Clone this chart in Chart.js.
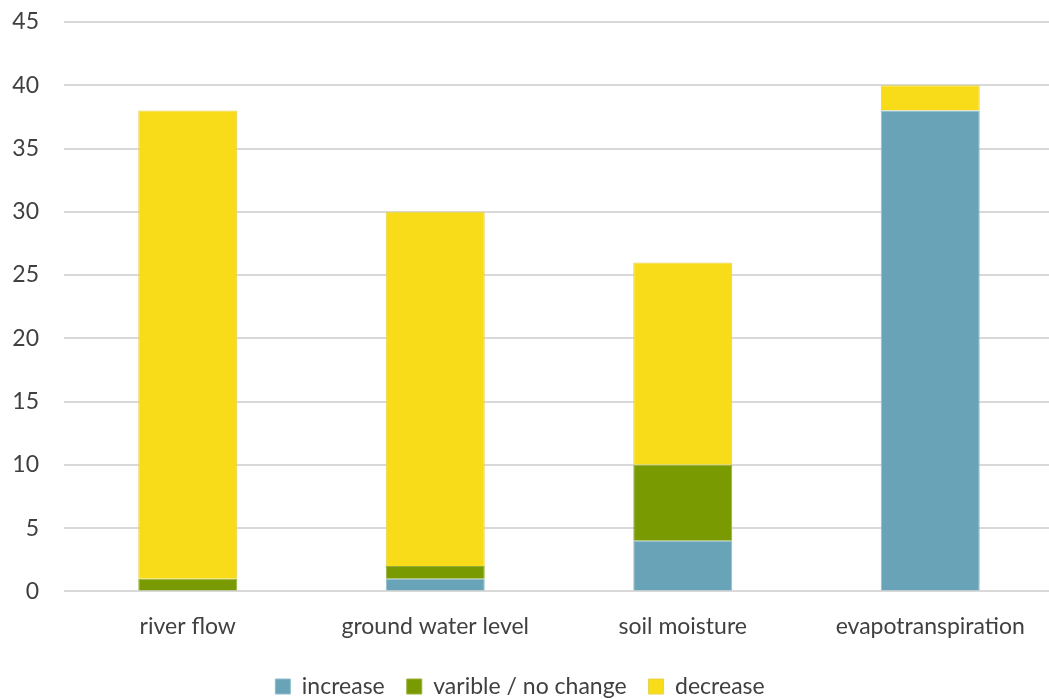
<!DOCTYPE html>
<html>
<head>
<meta charset="utf-8">
<script src="https://cdn.jsdelivr.net/npm/chart.js@4"></script>
<style>
  html, body { margin: 0; padding: 0; background: #fff; overflow: hidden; }
  #wrap { width: 1058px; height: 699px; }
</style>
</head>
<body>
<div id="wrap"><canvas id="chart"></canvas></div>
<script>
  // Data
  const categories = ['river flow', 'ground water level', 'soil moisture', 'evapotranspiration'];
  const increase = [0, 1, 4, 38];
  const variable = [1, 1, 6, 0];
  const decrease = [37, 28, 16, 2];
  const yTicks = [0, 5, 10, 15, 20, 25, 30, 35, 40, 45];

  const ctx = document.getElementById('chart').getContext('2d');
  const chart = new Chart(ctx, {
    type: 'bar',
    data: {
      labels: categories,
      datasets: [
        {
          label: 'increase',
          data: increase,
          backgroundColor: '#69a3b8',
          borderColor: '#8fbccb',
          borderWidth: 1,
          categoryPercentage: 1,
          barPercentage: 0.4
        },
        {
          label: 'varible / no change',
          data: variable,
          backgroundColor: '#7a9a01',
          borderColor: '#95b03a',
          borderWidth: 1,
          categoryPercentage: 1,
          barPercentage: 0.4
        },
        {
          label: 'decrease',
          data: decrease,
          backgroundColor: '#f8dc1a',
          borderColor: '#e6d24a',
          borderWidth: 1,
          categoryPercentage: 1,
          barPercentage: 0.4
        }
      ]
    },
    options: {
      responsive: true,
      maintainAspectRatio: false,
      animation: false,
      layout: { autoPadding: false, padding: { top: 22, right: 4, left: -14, bottom: -9 } },
      plugins: {
        tooltip: { enabled: false },
        legend: {
          position: 'bottom',
          labels: {
            font: { family: 'Lato', size: 23 },
            color: '#404040',
            boxWidth: 15,
            boxHeight: 15,
            padding: 22,
            useBorderRadius: false
          }
        }
      },
      scales: {
        x: {
          stacked: true,
          grid: { display: false },
          border: { display: false },
          ticks: {
            font: { family: 'Lato', size: 23 },
            color: '#404040',
            padding: 13
          }
        },
        y: {
          stacked: true,
          min: 0,
          max: 45,
          afterBuildTicks: axis => { axis.ticks = yTicks.map(v => ({ value: v })); },
          afterFit: axis => { axis.width = 78; },
          // invisible tick marks make the label gap without padding the top
          grid: { color: '#d9d9d9', lineWidth: 2, drawTicks: true, tickLength: 25, tickColor: 'rgba(0,0,0,0)' },
          border: { display: false },
          ticks: {
            font: { family: 'Lato', size: 23 },
            color: '#404040',
            padding: 0
          }
        }
      }
    }
  });
</script>
</body>
</html>
